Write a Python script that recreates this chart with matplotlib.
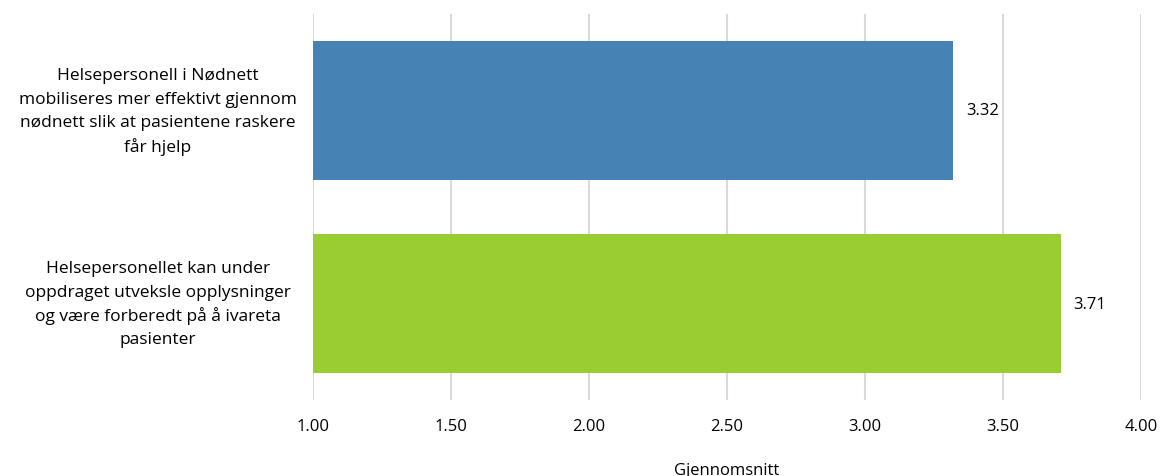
import matplotlib
matplotlib.use("Agg")
import matplotlib.pyplot as plt
import matplotlib.transforms as mtransforms

categories = [
    "Helsepersonell i Nødnett\nmobiliseres mer effektivt gjennom\nnødnett slik at pasientene raskere\nfår hjelp",
    "Helsepersonellet kan under\noppdraget utveksle opplysninger\nog være forberedt på å ivareta\npasienter",
]
values = [3.32, 3.71]
colors = ["#4682B4", "#9ACD32"]
xticks = [1.0, 1.5, 2.0, 2.5, 3.0, 3.5, 4.0]

plt.rcParams["font.family"] = ["Open Sans", "DejaVu Sans"]

fig = plt.figure(figsize=(11.62, 4.77), dpi=100)
ax = fig.add_axes([0.2694, 0.1593, 0.7126, 0.8093])

ypos = list(range(len(categories)))
ax.barh(ypos, [v - 1.0 for v in values], left=1.0, height=0.72, color=colors, zorder=3)

for y, v in zip(ypos, values):
    ax.text(v + 0.045, y, f"{v:.2f}", va="center", ha="left", fontsize=12, color="#000000", zorder=4)

ax.set_xlim(1.0, 4.0)
ax.set_ylim(1.5, -0.5)
ax.set_xticks(xticks)
ax.set_xticklabels([f"{t:.2f}" for t in xticks], fontsize=12)
ax.set_yticks(ypos)
ax.set_yticklabels([])
ax.tick_params(axis="y", length=0)
ax.tick_params(axis="x", length=0, pad=13)

# category labels, one line at a time so the spacing stays even
trans = mtransforms.blended_transform_factory(ax.transAxes, ax.transData)
line_step = 17.0  # points
for y, label in zip(ypos, categories):
    lines = label.split("\n")
    n = len(lines)
    for i, line in enumerate(lines):
        ax.annotate(line, xy=(0, y), xycoords=trans,
                    xytext=(-111.6, ((n - 1) / 2 - i) * line_step + 1.5), textcoords="offset points",
                    ha="center", va="center_baseline", fontsize=12.5, annotation_clip=False)

ax.grid(axis="x", color="#d9d9d9", linewidth=1.5, zorder=0)
for s in ax.spines.values():
    s.set_visible(False)

ax.set_xlabel("Gjennomsnitt", fontsize=12, labelpad=20)

fig.savefig("out.png", dpi=100, facecolor="white")
